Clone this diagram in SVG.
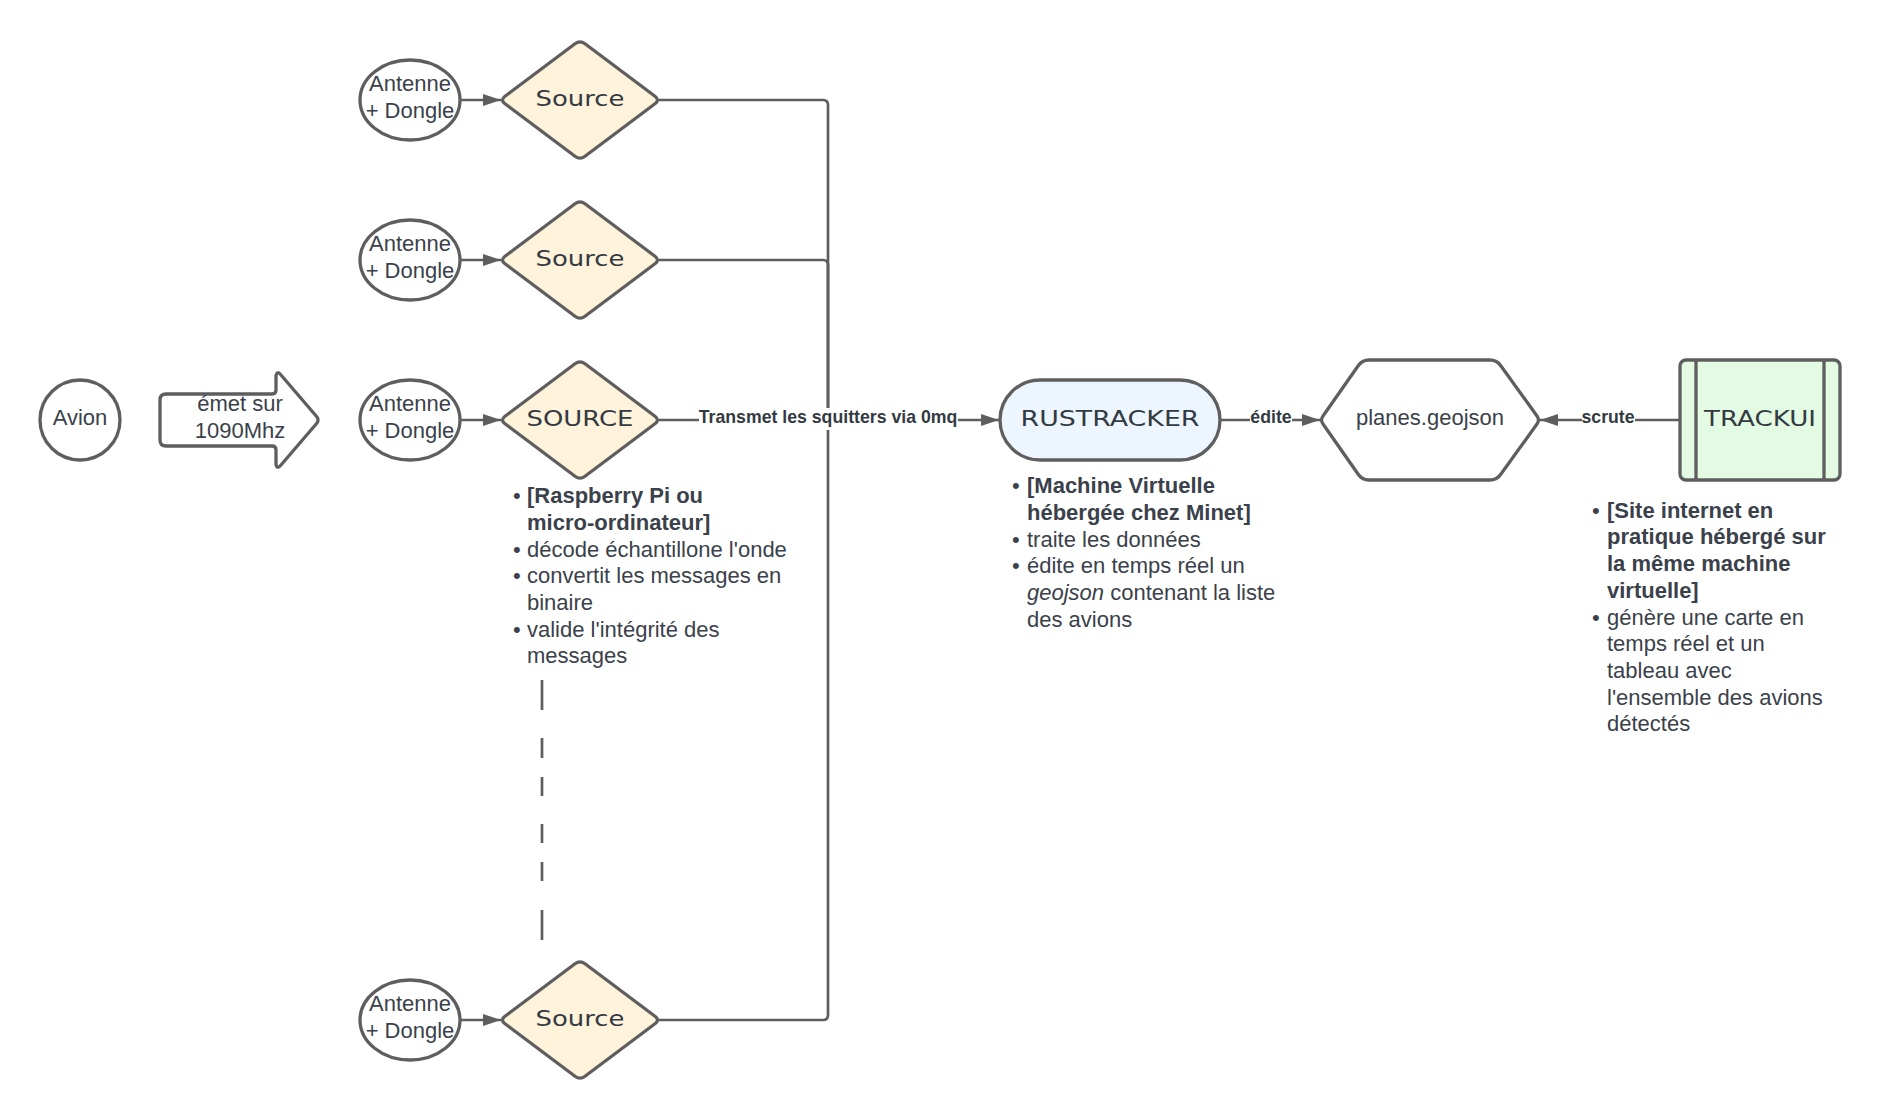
<svg xmlns="http://www.w3.org/2000/svg" width="1888" height="1120" viewBox="0 0 1888 1120">
<style>
text{font-family:"Liberation Sans",Arial,sans-serif;font-size:22px;fill:#3a414a}
.c{text-anchor:middle}
.b{font-weight:bold}
.i{font-style:italic}
.t{font-family:"DejaVu Sans",sans-serif;font-size:22px;text-anchor:middle;fill:#333a42}
.e{font-size:17.7px;font-weight:bold;text-anchor:middle;fill:#333a42}
.s{stroke:#5e5e5e;stroke-width:3.3;stroke-linejoin:round}
.w{fill:#fff}
.y{fill:#fff3dc}
.l{fill:none;stroke:#5e5e5e;stroke-width:2.7}
.a{marker-end:url(#arr)}
</style>
<defs>
<marker id="arr" markerUnits="userSpaceOnUse" markerWidth="20" markerHeight="14" refX="18" refY="7" orient="auto">
<path d="M0,1 L18,7 L0,13 Z" fill="#5e5e5e"/>
</marker>
<path id="dia" d="M-5,-56.2 Q0,-60 5,-56.2 L75,-3.8 Q80,0 75,3.8 L5,56.2 Q0,60 -5,56.2 L-75,3.8 Q-80,0 -75,-3.8 Z"/>
</defs>
<rect width="1888" height="1120" fill="#fff"/>
<g id="connectors">
<path class="l" d="M658,100 H823 Q828,100 828,105 V420"/>
<path class="l" d="M658,260 H823 Q828,260 828,265 V420"/>
<path class="l" d="M658,1020 H823 Q828,1020 828,1015 V420"/>
<path class="l a" d="M658,420 H999"/>
<path class="l a" d="M460,100 H501"/>
<path class="l a" d="M460,260 H501"/>
<path class="l a" d="M460,420 H501"/>
<path class="l a" d="M460,1020 H501"/>
<path class="l a" d="M1220,420 H1320"/>
<path class="l a" d="M1679,420 H1540"/>
<path class="l" d="M542,680 V710 M542,738 V758 M542,777 V796 M542,824 V843 M542,862 V881 M542,910 V940"/>
<rect x="699" y="408" width="259" height="22" fill="#fff"/>
<text class="e" x="828" y="423">Transmet les squitters via 0mq</text>
<rect x="1250" y="410" width="42" height="20" fill="#fff"/>
<text class="e" x="1271" y="423">édite</text>
<rect x="1582" y="410" width="53" height="20" fill="#fff"/>
<text class="e" x="1608" y="423">scrute</text>
</g>
<g id="avion"><ellipse class="s w" cx="80" cy="420" rx="40" ry="40"/><text class="c" x="80" y="425">Avion</text></g>
<g id="emet"><path class="s w" d="M166,394 H272 Q276,394 276,390 V376 Q277,370 281,375 L317,417 Q319,420 317,423 L281,465 Q277,470 276,464 V450 Q276,446 272,446 H166 Q160,446 160,440 V400 Q160,394 166,394 Z"/>
<text class="c" x="240" y="411">émet sur</text><text class="c" x="240" y="438">1090Mhz</text></g>
<g id="antenne1"><ellipse class="s w" cx="410" cy="100" rx="50" ry="40"/><text class="c" x="410" y="91">Antenne</text><text class="c" x="410" y="118">+ Dongle</text></g>
<g id="antenne2"><ellipse class="s w" cx="410" cy="260" rx="50" ry="40"/><text class="c" x="410" y="251">Antenne</text><text class="c" x="410" y="278">+ Dongle</text></g>
<g id="antenne3"><ellipse class="s w" cx="410" cy="420" rx="50" ry="40"/><text class="c" x="410" y="411">Antenne</text><text class="c" x="410" y="438">+ Dongle</text></g>
<g id="antenne4"><ellipse class="s w" cx="410" cy="1020" rx="50" ry="40"/><text class="c" x="410" y="1011">Antenne</text><text class="c" x="410" y="1038">+ Dongle</text></g>
<g id="source1"><use href="#dia" x="580" y="100" class="s y"/><text class="t" x="580" y="106" textLength="89" lengthAdjust="spacingAndGlyphs">Source</text></g>
<g id="source2"><use href="#dia" x="580" y="260" class="s y"/><text class="t" x="580" y="266" textLength="89" lengthAdjust="spacingAndGlyphs">Source</text></g>
<g id="source3"><use href="#dia" x="580" y="420" class="s y"/><text class="t" x="580" y="426" textLength="107" lengthAdjust="spacingAndGlyphs">SOURCE</text></g>
<g id="source4"><use href="#dia" x="580" y="1020" class="s y"/><text class="t" x="580" y="1026" textLength="89" lengthAdjust="spacingAndGlyphs">Source</text></g>
<g id="rustracker"><rect class="s" x="1000" y="380" width="220" height="80" rx="40" fill="#edf5ff"/><text class="t" x="1110" y="426" textLength="179" lengthAdjust="spacingAndGlyphs">RUSTRACKER</text></g>
<g id="planes"><path class="s w" d="M1369,360 H1490 Q1497,360 1501,366 L1537,416 Q1540,420 1537,424 L1501,474 Q1497,480 1490,480 H1369 Q1362,480 1358,474 L1323,424 Q1320,420 1323,416 L1358,366 Q1362,360 1369,360 Z"/><text class="c" x="1430" y="425">planes.geojson</text></g>
<g id="trackui"><rect class="s" x="1680" y="360" width="160" height="120" rx="6" fill="#e3fae3"/><path class="s" d="M1696,360 V480 M1824,360 V480" fill="none"/><text class="t" x="1760" y="426" textLength="112" lengthAdjust="spacingAndGlyphs">TRACKUI</text></g>
<g id="note-source">
<text x="513" y="503">•</text><text class="b" x="527" y="503">[Raspberry Pi ou</text>
<text class="b" x="527" y="530">micro-ordinateur]</text>
<text x="513" y="556.5">•</text><text x="527" y="556.5">décode échantillone l'onde</text>
<text x="513" y="583">•</text><text x="527" y="583">convertit les messages en</text>
<text x="527" y="610">binaire</text>
<text x="513" y="636.5">•</text><text x="527" y="636.5">valide l'intégrité des</text>
<text x="527" y="663">messages</text>
</g>
<g id="note-rustracker">
<text x="1012" y="493">•</text><text class="b" x="1027" y="493">[Machine Virtuelle</text>
<text class="b" x="1027" y="520">hébergée chez Minet]</text>
<text x="1012" y="546.5">•</text><text x="1027" y="546.5">traite les données</text>
<text x="1012" y="573">•</text><text x="1027" y="573">édite en temps réel un</text>
<text x="1027" y="600"><tspan class="i">geojson</tspan> contenant la liste</text>
<text x="1027" y="626.5">des avions</text>
</g>
<g id="note-trackui">
<text x="1592" y="517.5">•</text><text class="b" x="1607" y="517.5">[Site internet en</text>
<text class="b" x="1607" y="544">pratique hébergé sur</text>
<text class="b" x="1607" y="571">la même machine</text>
<text class="b" x="1607" y="598">virtuelle]</text>
<text x="1592" y="624.5">•</text><text x="1607" y="624.5">génère une carte en</text>
<text x="1607" y="651">temps réel et un</text>
<text x="1607" y="678">tableau avec</text>
<text x="1607" y="704.5">l'ensemble des avions</text>
<text x="1607" y="731">détectés</text>
</g>
</svg>
